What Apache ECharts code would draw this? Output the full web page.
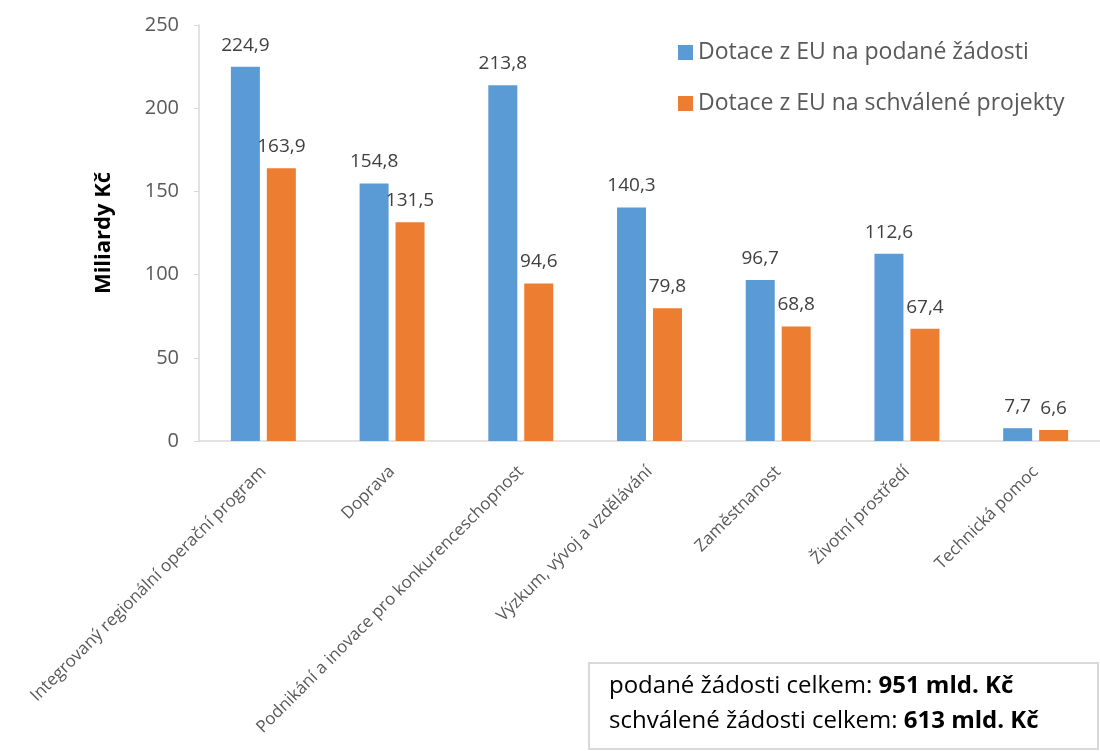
<!DOCTYPE html>
<html>
<head>
<meta charset="utf-8">
<script src="https://cdn.jsdelivr.net/npm/echarts@6/dist/echarts.min.js"></script>
<style>
  html, body { margin: 0; padding: 0; background: #fff; }
  #chart { width: 1100px; height: 751px; }
</style>
</head>
<body>
<div id="chart"></div>
<script>
const categories = [
  'Integrovaný regionální operační program',
  'Doprava',
  'Podnikání a inovace pro konkurenceschopnost',
  'Výzkum, vývoj a vzdělávání',
  'Zaměstnanost',
  'Životní prostředí',
  'Technická pomoc'
]
const podane = [224.9, 154.8, 213.8, 140.3, 96.7, 112.6, 7.7]
const schvalene = [163.9, 131.5, 94.6, 79.8, 68.8, 67.4, 6.6]
const yTicks = { min: 0, max: 250, interval: 50 }

const font = 'Open Sans'
const comma = p => String(p.value.toFixed(1)).replace('.', ',')

const chart = echarts.init(document.getElementById('chart'))
chart.setOption({
  animation: false,
  textStyle: { fontFamily: font },
  grid: { left: 199, top: 25, width: 910, height: 416, containLabel: false },
  legend: {
    orient: 'vertical',
    left: 673, top: 36,
    itemWidth: 15, itemHeight: 15, itemGap: 28,
    icon: 'rect',
    textStyle: { fontSize: 23, color: '#595959', fontFamily: font }
  },
  xAxis: {
    type: 'category',
    data: categories,
    axisLine: { lineStyle: { color: '#d9d9d9', width: 1.5 } },
    axisTick: { show: false },
    axisLabel: { rotate: 45, interval: 0, fontSize: 17, color: '#595959', margin: 28 }
  },
  yAxis: {
    type: 'value',
    min: yTicks.min, max: yTicks.max, interval: yTicks.interval,
    name: 'Miliardy Kč',
    nameLocation: 'middle',
    nameGap: 84,
    nameTextStyle: { fontSize: 22, fontWeight: 'bold', color: '#000' },
    axisLine: { show: true, lineStyle: { color: '#d9d9d9', width: 1.5 } },
    axisTick: { show: true, length: 5, lineStyle: { color: '#d9d9d9' } },
    splitLine: { show: false },
    axisLabel: { fontSize: 20, color: '#595959', margin: 20 }
  },
  series: [
    {
      name: 'Dotace z EU na podané žádosti',
      type: 'bar',
      data: podane,
      barWidth: 29,
      barGap: '24%',
      itemStyle: { color: '#5b9bd5' },
      label: { show: true, position: 'top', distance: 12, fontSize: 19, color: '#404040', formatter: comma }
    },
    {
      name: 'Dotace z EU na schválené projekty',
      type: 'bar',
      data: schvalene,
      barWidth: 29,
      barGap: '24%',
      itemStyle: { color: '#ed7d31' },
      label: { show: true, position: 'top', distance: 12, fontSize: 19, color: '#404040', formatter: comma }
    }
  ],
  graphic: [
    {
      type: 'rect',
      left: 588, top: 662,
      shape: { width: 509, height: 86 },
      style: { fill: '#fff', stroke: '#d9d9d9', lineWidth: 2 }
    },
    {
      type: 'text',
      left: 609, top: 669,
      style: {
        text: 'podané žádosti celkem: {b|951 mld. Kč}\nschválené žádosti celkem: {b|613 mld. Kč}',
        fontFamily: font,
        fontSize: 24,
        lineHeight: 35,
        fill: '#000',
        rich: { b: { fontWeight: 'bold', fontSize: 24, fontFamily: font, lineHeight: 35 } }
      }
    }
  ]
})
</script>
</body>
</html>
